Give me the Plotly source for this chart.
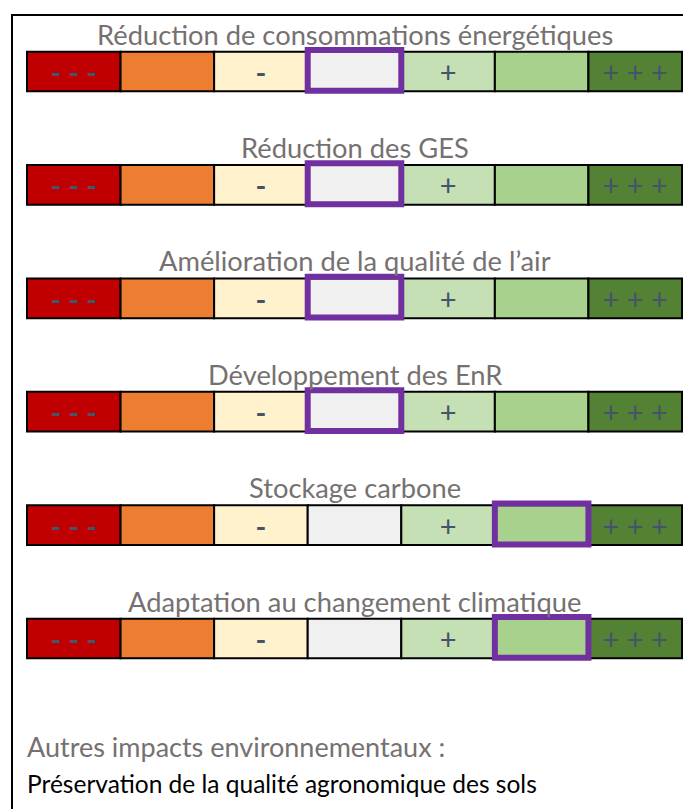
import plotly.graph_objects as go

# --- donnees ---
criteres = [
    "Réduction de consommations énergétiques",
    "Réduction des GES",
    "Amélioration de la qualité de l’air",
    "Développement des EnR",
    "Stockage carbone",
    "Adaptation au changement climatique",
]
niveaux = ["---", "--", "-", "0", "+", "++", "+++"]
symboles = ["- - -", "", "-", "", "+", "", "+ + +"]
couleurs = ["#C00000", "#ED7D31", "#FFF2CC", "#F0F0F0", "#C5E0B4", "#A9D18E", "#548235"]
selection = [3, 3, 3, 3, 5, 5]  # index du niveau retenu par critere

autres_titre = "Autres impacts environnementaux :"
autres_items = ["Préservation de la qualité agronomique des sols"]

W, H = 691, 809
OFF = 8  # marge par defaut du <body>
FONT = "Lato"
GRIS_TEXTE = "#767171"
VIOLET = "#7030A0"

rows = list(range(len(criteres)))

fig = go.Figure()
for j, niv in enumerate(niveaux):
    fig.add_trace(go.Bar(
        orientation="h",
        y=rows,
        x=[1] * len(rows),
        base=[j] * len(rows),
        width=0.35,
        name=niv,
        marker=dict(color=couleurs[j], line=dict(color="black", width=2)),
        text=[symboles[j]] * len(rows),
        textposition="inside",
        insidetextanchor="middle",
        textangle=0,
        constraintext="none",
        textfont=dict(family=FONT, size=29, color="#44546A",
                      weight="bold" if "-" in symboles[j] else "normal"),
        hoverinfo="skip",
        showlegend=False,
    ))

# cadre de selection
for i, s in enumerate(selection):
    fig.add_shape(type="rect", xref="x", yref="y",
                  x0=s, x1=s + 1, y0=i - 0.19, y1=i + 0.17,
                  line=dict(color=VIOLET, width=6), layer="above")

# titres des criteres
for i, c in enumerate(criteres):
    fig.add_annotation(x=3.5, y=i - 0.33, xref="x", yref="y", text=c,
                       showarrow=False, xanchor="center", yanchor="middle",
                       font=dict(family=FONT, size=27.3, color=GRIS_TEXTE))

# cadre general
fig.add_shape(type="rect", xref="paper", yref="paper",
              x0=(12 - OFF) / W, x1=1.02, y0=-0.02, y1=1 - (15 - OFF) / H,
              line=dict(color="black", width=2))

fig.add_annotation(x=(25 - OFF) / W, y=1 - (746 - OFF) / H, xref="paper", yref="paper",
                   text=autres_titre, showarrow=False, xanchor="left", yanchor="middle",
                   font=dict(family=FONT, size=27, color=GRIS_TEXTE))
for k, t in enumerate(autres_items):
    fig.add_annotation(x=(25 - OFF) / W, y=1 - (783 - OFF + 30 * k) / H, xref="paper", yref="paper",
                       text=t, showarrow=False, xanchor="left", yanchor="middle",
                       font=dict(family=FONT, size=24.5, color="black"))

px0, cell = 27 - OFF, (682 - 27) / 7
row0, pas = 71.5 - OFF, 113.4
fig.update_layout(
    width=W, height=H,
    margin=dict(l=0, r=0, t=0, b=0),
    paper_bgcolor="white", plot_bgcolor="white",
    barmode="overlay",
    xaxis=dict(range=[-px0 / cell, (W - px0) / cell], visible=False, fixedrange=True),
    yaxis=dict(range=[(H - row0) / pas, -row0 / pas], visible=False, fixedrange=True),
)

fig.write_html("out.html")
